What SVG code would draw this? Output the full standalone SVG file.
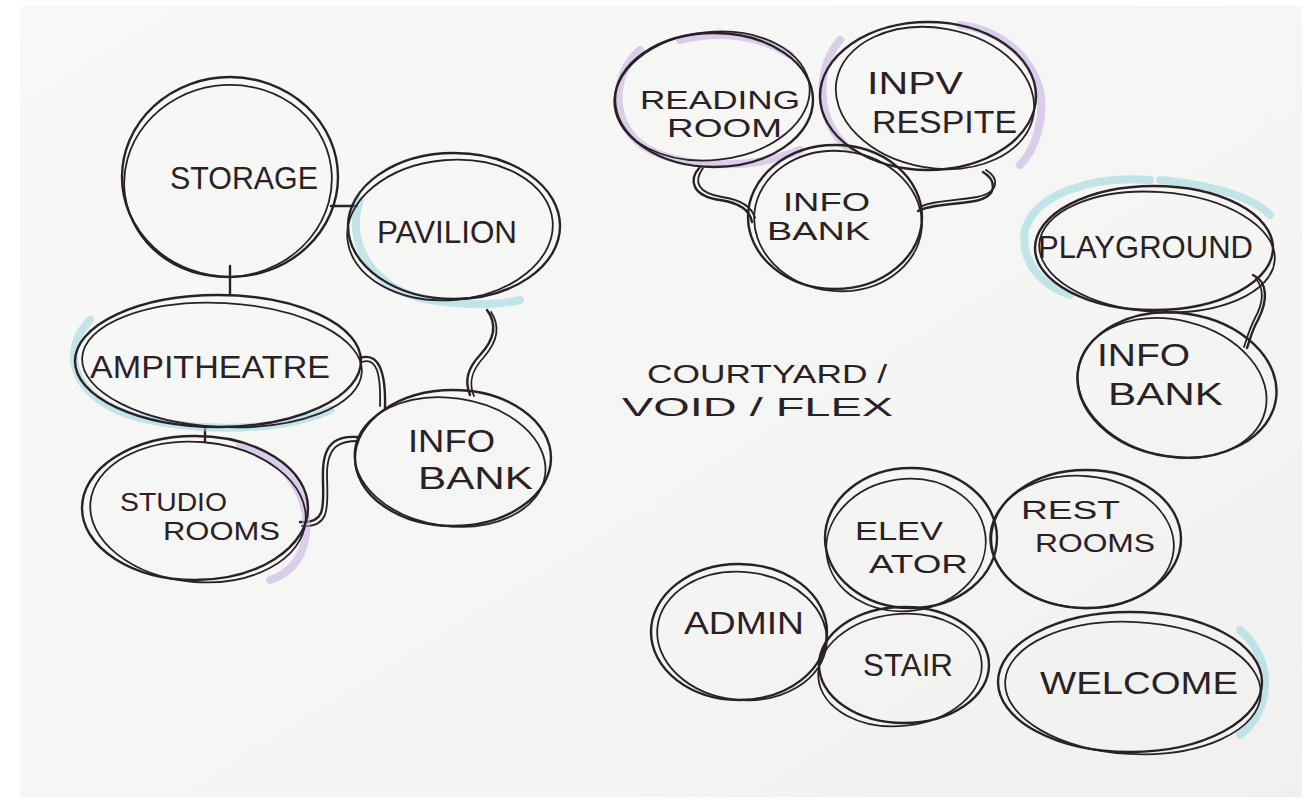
<svg xmlns="http://www.w3.org/2000/svg" width="1306" height="801" viewBox="0 0 1306 801">
<defs>
<linearGradient id="paper" x1="0" y1="0" x2="1" y2="1">
<stop offset="0" stop-color="#f8f8f6"/>
<stop offset="0.6" stop-color="#f5f5f3"/>
<stop offset="1" stop-color="#f0f0ee"/>
</linearGradient>
<style>
.ink{fill:none;stroke:#2a2127;stroke-width:2.4;stroke-linecap:round;stroke-linejoin:round}
.ink2{fill:none;stroke:#2a2127;stroke-width:1.8;stroke-linecap:round}
.purple{fill:none;stroke:#c7b3e3;stroke-width:8;stroke-opacity:0.6;stroke-linecap:round}
.teal{fill:none;stroke:#9fd9df;stroke-width:8;stroke-opacity:0.6;stroke-linecap:round}
.lbl{font-family:"Liberation Sans",Arial,sans-serif;font-size:32px;fill:#2a2127;font-weight:normal}
.sm{font-size:26px}
.xs{font-size:25px}
</style>
</defs>
<rect x="0" y="0" width="1306" height="801" fill="#ffffff"/>
<rect x="20" y="6" width="1282" height="791" fill="url(#paper)"/>

<g id="connectors">
<path class="ink" d="M331,206 L357,206"/>
<path class="ink" d="M230,266 L230,294"/>
<path class="ink" d="M205,427 L205,441"/>
<path class="ink" d="M487,310 C498,325 494,340 480,355 C468,368 464,380 470,395"/>
<path class="ink2" d="M491,312 C501,327 497,342 484,357 C472,370 468,382 474,396"/>
<path class="ink" d="M360,358 C378,352 386,370 385,408"/>
<path class="ink2" d="M362,362 C376,357 381,372 380,406"/>
<path class="ink" d="M300,522 C330,524 322,500 323,470 C324,440 340,436 357,437"/>
<path class="ink2" d="M302,526 C333,528 327,502 327,472 C328,444 342,441 358,441"/>
<path class="ink" d="M700,167 C688,180 692,196 720,200 C740,203 750,210 752,222"/>
<path class="ink2" d="M703,168 C693,182 698,193 722,197 C742,200 752,207 755,218"/>
<path class="ink" d="M983,172 C996,180 999,196 975,201 C950,205 928,205 918,211"/>
<path class="ink2" d="M986,170 C999,178 1000,192 977,197 C952,201 930,201 920,207"/>
<path class="ink" d="M1253,275 C1268,282 1268,300 1258,320 C1252,330 1250,340 1247,348"/>
<path class="ink2" d="M1256,279 C1264,288 1264,302 1255,318 C1249,330 1247,338 1244,347"/>
</g>

<g id="storage">
<ellipse class="ink" cx="230" cy="177" rx="108" ry="100"/>
<ellipse class="ink2" cx="228" cy="181" rx="104" ry="96" transform="rotate(-8 228 181)"/>
<text class="lbl" x="170" y="189" textLength="148" lengthAdjust="spacingAndGlyphs">STORAGE</text>
</g>

<g id="pavilion">
<path class="teal" d="M360,200 C345,240 370,290 430,300 C470,306 500,305 520,300"/>
<ellipse class="ink" cx="454" cy="226" rx="106" ry="73"/>
<ellipse class="ink2" cx="450" cy="230" rx="103" ry="70" transform="rotate(-5 450 230)"/>
<text class="lbl" x="377" y="243" textLength="140" lengthAdjust="spacingAndGlyphs">PAVILION</text>
</g>

<g id="ampitheatre">
<path class="teal" d="M90,320 C60,350 70,400 140,418 C200,432 280,432 330,410"/>
<ellipse class="ink" cx="218" cy="361" rx="143" ry="66"/>
<ellipse class="ink2" cx="222" cy="365" rx="140" ry="62" transform="rotate(3 222 365)"/>
<text class="lbl" x="90" y="378" textLength="240" lengthAdjust="spacingAndGlyphs">AMPITHEATRE</text>
</g>

<g id="studio-rooms">
<path class="purple" d="M240,445 C290,460 312,500 305,540 C300,565 285,575 270,580"/>
<ellipse class="ink" cx="195" cy="508" rx="113" ry="72"/>
<ellipse class="ink2" cx="198" cy="512" rx="108" ry="70" transform="rotate(5 198 512)"/>
<text class="lbl sm" x="120" y="511" textLength="107" lengthAdjust="spacingAndGlyphs">STUDIO</text>
<text class="lbl sm" x="163" y="540" textLength="117" lengthAdjust="spacingAndGlyphs">ROOMS</text>
</g>

<g id="info-bank-left">
<ellipse class="ink" cx="453" cy="458" rx="98" ry="68"/>
<ellipse class="ink2" cx="450" cy="462" rx="96" ry="64" transform="rotate(8 450 462)"/>
<text class="lbl" x="408" y="452" textLength="87" lengthAdjust="spacingAndGlyphs">INFO</text>
<text class="lbl" x="418" y="489" textLength="115" lengthAdjust="spacingAndGlyphs">BANK</text>
</g>

<g id="reading-room">
<path class="purple" d="M640,50 C610,75 610,130 650,150 C690,170 760,168 800,150"/>
<path class="purple" d="M680,40 C720,30 760,35 790,55"/>
<ellipse class="ink" cx="714" cy="100" rx="99" ry="67"/>
<ellipse class="ink2" cx="712" cy="96" rx="98" ry="64" transform="rotate(-6 712 96)"/>
<text class="lbl sm" x="640" y="109" textLength="160" lengthAdjust="spacingAndGlyphs">READING</text>
<text class="lbl sm" x="667" y="137" textLength="115" lengthAdjust="spacingAndGlyphs">ROOM</text>
</g>

<g id="inpv-respite">
<path class="purple" d="M840,40 C815,70 815,120 850,150"/>
<path class="purple" d="M960,25 C1000,30 1030,55 1040,90 C1045,120 1035,150 1020,165"/>
<ellipse class="ink" cx="928" cy="96" rx="108" ry="74"/>
<ellipse class="ink2" cx="935" cy="98" rx="100" ry="70" transform="rotate(10 935 98)"/>
<text class="lbl" x="867" y="94" textLength="96" lengthAdjust="spacingAndGlyphs">INPV</text>
<text class="lbl" x="872" y="133" textLength="145" lengthAdjust="spacingAndGlyphs">RESPITE</text>
</g>

<g id="info-bank-top">
<ellipse class="ink" cx="835" cy="217" rx="87" ry="72"/>
<ellipse class="ink2" cx="838" cy="221" rx="84" ry="70" transform="rotate(6 838 221)"/>
<text class="lbl sm" x="783" y="211" textLength="87" lengthAdjust="spacingAndGlyphs">INFO</text>
<text class="lbl sm" x="767" y="240" textLength="103" lengthAdjust="spacingAndGlyphs">BANK</text>
</g>

<g id="playground">
<path class="teal" d="M1150,180 C1090,175 1035,195 1025,230 C1020,260 1040,285 1070,295"/>
<path class="teal" d="M1160,180 C1210,185 1250,195 1270,215"/>
<ellipse class="ink" cx="1154" cy="248" rx="119" ry="62"/>
<ellipse class="ink2" cx="1157" cy="252" rx="118" ry="60" transform="rotate(4 1157 252)"/>
<text class="lbl" x="1038" y="258" textLength="215" lengthAdjust="spacingAndGlyphs">PLAYGROUND</text>
</g>

<g id="info-bank-right">
<ellipse class="ink" cx="1177" cy="385" rx="100" ry="72" transform="rotate(8 1177 385)"/>
<ellipse class="ink2" cx="1172" cy="388" rx="96" ry="68" transform="rotate(14 1172 388)"/>
<text class="lbl" x="1097" y="366" textLength="93" lengthAdjust="spacingAndGlyphs">INFO</text>
<text class="lbl" x="1108" y="405" textLength="115" lengthAdjust="spacingAndGlyphs">BANK</text>
</g>

<g id="courtyard">
<text class="lbl xs" x="647" y="383" textLength="240" lengthAdjust="spacingAndGlyphs">COURTYARD /</text>
<text class="lbl xs" x="622" y="416" textLength="271" lengthAdjust="spacingAndGlyphs">VOID /  FLEX</text>
</g>

<g id="elevator">
<ellipse class="ink" cx="911" cy="538" rx="86" ry="70"/>
<ellipse class="ink2" cx="906" cy="545" rx="80" ry="66" transform="rotate(-8 906 545)"/>
<text class="lbl sm" x="855" y="540" textLength="88" lengthAdjust="spacingAndGlyphs">ELEV</text>
<text class="lbl sm" x="869" y="573" textLength="99" lengthAdjust="spacingAndGlyphs">ATOR</text>
</g>

<g id="rest-rooms">
<ellipse class="ink" cx="1086" cy="539" rx="95" ry="69"/>
<ellipse class="ink2" cx="1082" cy="542" rx="92" ry="66" transform="rotate(5 1082 542)"/>
<text class="lbl sm" x="1021" y="519" textLength="99" lengthAdjust="spacingAndGlyphs">REST</text>
<text class="lbl sm" x="1035" y="552" textLength="120" lengthAdjust="spacingAndGlyphs">ROOMS</text>
</g>

<g id="admin">
<ellipse class="ink" cx="739" cy="632" rx="88" ry="68"/>
<ellipse class="ink2" cx="742" cy="636" rx="85" ry="64" transform="rotate(6 742 636)"/>
<text class="lbl" x="684" y="634" textLength="120" lengthAdjust="spacingAndGlyphs">ADMIN</text>
</g>

<g id="stair">
<ellipse class="ink" cx="904" cy="665" rx="85" ry="58"/>
<ellipse class="ink2" cx="900" cy="670" rx="82" ry="56" transform="rotate(-6 900 670)"/>
<text class="lbl" x="863" y="676" textLength="90" lengthAdjust="spacingAndGlyphs">STAIR</text>
</g>

<g id="welcome">
<path class="teal" d="M1240,630 C1275,660 1272,710 1240,735" stroke-opacity="0.4"/>
<ellipse class="ink" cx="1130" cy="682" rx="132" ry="70"/>
<ellipse class="ink2" cx="1133" cy="688" rx="128" ry="66" transform="rotate(3 1133 688)"/>
<text class="lbl" x="1040" y="694" textLength="198" lengthAdjust="spacingAndGlyphs">WELCOME</text>
</g>
</svg>
